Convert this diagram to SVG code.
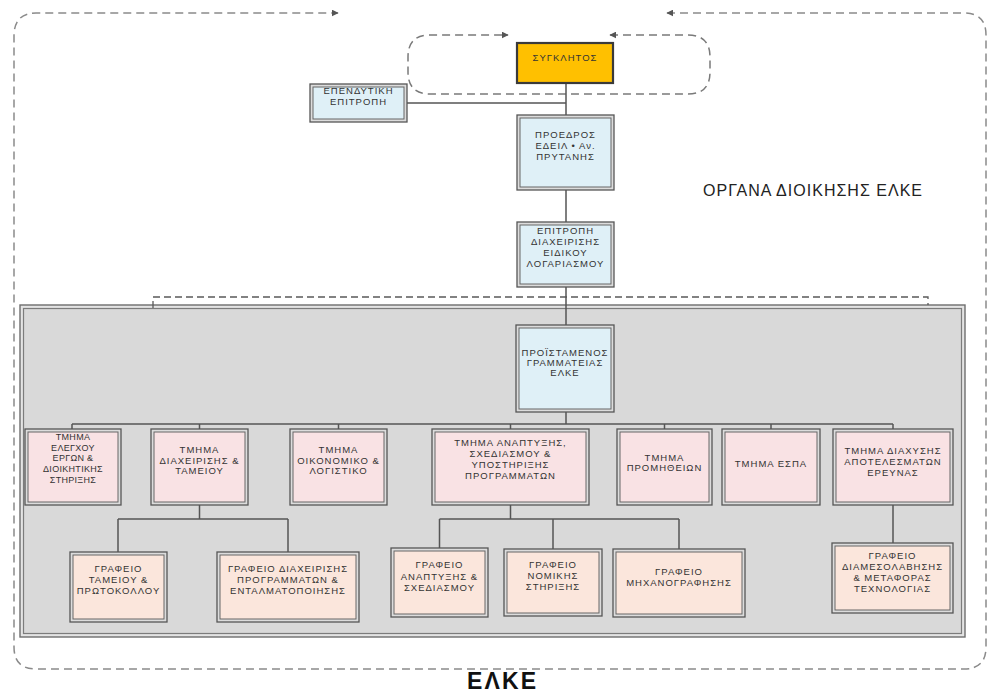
<svg xmlns="http://www.w3.org/2000/svg" width="988" height="693" viewBox="0 0 988 693">
  <defs>
    <marker id="arrow" viewBox="0 0 10 10" refX="9" refY="5" markerWidth="7" markerHeight="7" markerUnits="userSpaceOnUse" orient="auto-start-reverse">
      <path d="M0,0 L10,5 L0,10 z" fill="#555"/>
    </marker>
    <style>
      .bg{fill:#ffffff}
      .panel-o{fill:#e4e4e4;stroke:#6e6e6e;stroke-width:1.4}
      .panel-i{fill:#d9d9d9;stroke:#7c7c7c;stroke-width:1.2}
      .box-o{fill:#dcdcdc;stroke:#565656;stroke-width:1.3}
      .blue{fill:#dff0f7;stroke:#666;stroke-width:1}
      .pink{fill:#f9e2e4;stroke:#666;stroke-width:1}
      .peach{fill:#fbe6dc;stroke:#666;stroke-width:1}
      .senate{fill:#ffc000;stroke:#3a3a3a;stroke-width:2.2}
      .t{font-family:"Liberation Sans",Arial,sans-serif;font-size:9.5px;letter-spacing:1px;fill:#333;text-anchor:middle}
      .ts{font-size:9px;letter-spacing:0.3px}
      .conn{stroke:#555;stroke-width:1.5;fill:none}
      .dash-outer{stroke:#8a8a8a;stroke-width:1.5;fill:none;stroke-dasharray:8 5}
      .dash-inner{stroke:#7a7a7a;stroke-width:1.5;fill:none;stroke-dasharray:8 5}
      .dash-bracket{stroke:#5a5a5a;stroke-width:1.3;fill:none;stroke-dasharray:7 4}
      .title{font-family:"Liberation Sans",Arial,sans-serif;font-size:16px;fill:#222}
      .label{font-family:"Liberation Sans",Arial,sans-serif;font-size:23px;font-weight:bold;fill:#111}
    </style>
  </defs>

  <rect class="bg" x="0" y="0" width="988" height="693"/>

  <!-- outer dashed boundary with arrows -->
  <path class="dash-outer" d="M667,13 H964 Q986,13 986,35 V647 Q986,669 964,669 H36 Q14,669 14,647 V36 Q14,13 36,13 H338" marker-start="url(#arrow)" marker-end="url(#arrow)"/>

  <!-- dashed loop around the senate -->
  <path class="dash-inner" d="M610,35 H688 Q710,35 710,57 V72 Q710,94 688,94 H430 Q408,94 408,72 V57 Q408,35 430,35 H508" marker-start="url(#arrow)" marker-end="url(#arrow)"/>

  <!-- grey administration panel -->
  <g id="panel">
    <rect class="panel-o" x="20" y="305" width="945" height="332"/>
    <rect class="panel-i" x="23.5" y="308.5" width="938" height="325"/>
  </g>

  <!-- dashed bracket above the panel -->
  <path class="dash-bracket" d="M153,308 V297 H928 V305"/>

  <!-- connectors -->
  <g id="connectors" class="conn">
    <path d="M566,83 V115"/>
    <path d="M407,103 H566"/>
    <path d="M566,190 V222"/>
    <path d="M566,287 V325"/>
    <path d="M566,412 V424"/>
    <path d="M72,424 H893"/>
    <path d="M72,424 V429 M199.5,424 V429 M338.5,424 V429 M510.5,424 V429 M664.5,424 V429 M771,424 V429 M893,424 V429"/>
    <path d="M199.5,505 V519 M118,519 H288 M118,519 V552 M288,519 V552"/>
    <path d="M510.5,505 V519 M439.5,519 H679 M439.5,519 V548 M553,519 V549 M679,519 V549"/>
    <path d="M893,505 V543"/>
  </g>

  <!-- governing bodies -->
  <g id="senate">
    <rect class="senate" x="517" y="43" width="96" height="40"/>
    <text class="t" x="565" y="61">ΣΥΓΚΛΗΤΟΣ</text>
  </g>

  <g id="investment-committee">
    <rect class="box-o" x="310" y="84" width="97" height="38"/>
    <rect class="blue" x="313" y="87" width="91" height="32"/>
    <text class="t" x="358.5" y="94">ΕΠΕΝΔΥΤΙΚΗ</text>
    <text class="t" x="358.5" y="105">ΕΠΙΤΡΟΠΗ</text>
  </g>

  <g id="president">
    <rect class="box-o" x="517" y="115" width="97" height="75"/>
    <rect class="blue" x="520" y="118" width="91" height="69"/>
    <text class="t" x="565.5" y="138">ΠΡΟΕΔΡΟΣ</text>
    <text class="t" x="565.5" y="149">ΕΔΕΙΛ • Αν.</text>
    <text class="t" x="565.5" y="160">ΠΡΥΤΑΝΗΣ</text>
  </g>

  <g id="management-committee">
    <rect class="box-o" x="517" y="222" width="97" height="65"/>
    <rect class="blue" x="520" y="225" width="91" height="59"/>
    <text class="t" x="565.5" y="234">ΕΠΙΤΡΟΠΗ</text>
    <text class="t" x="565.5" y="245">ΔΙΑΧΕΙΡΙΣΗΣ</text>
    <text class="t" x="565.5" y="256">ΕΙΔΙΚΟΥ</text>
    <text class="t" x="565.5" y="267">ΛΟΓΑΡΙΑΣΜΟΥ</text>
  </g>

  <text class="title" x="703" y="196" textLength="219" lengthAdjust="spacing">ΟΡΓΑΝΑ ΔΙΟΙΚΗΣΗΣ ΕΛΚΕ</text>

  <g id="head-of-secretariat">
    <rect class="box-o" x="516" y="325" width="98" height="87"/>
    <rect class="blue" x="519" y="328" width="92" height="81"/>
    <text class="t" x="565" y="356">ΠΡΟΪΣΤΑΜΕΝΟΣ</text>
    <text class="t" x="565" y="366">ΓΡΑΜΜΑΤΕΙΑΣ</text>
    <text class="t" x="565" y="376">ΕΛΚΕ</text>
  </g>

  <!-- departments -->
  <g id="dept-audit">
    <rect class="box-o" x="25" y="429" width="96" height="76"/>
    <rect class="pink" x="28" y="432" width="90" height="70"/>
    <text class="t ts" x="73" y="440">ΤΜΗΜΑ</text>
    <text class="t ts" x="73" y="451">ΕΛΕΓΧΟΥ</text>
    <text class="t ts" x="73" y="461">ΕΡΓΩΝ &amp;</text>
    <text class="t ts" x="73" y="472">ΔΙΟΙΚΗΤΙΚΗΣ</text>
    <text class="t ts" x="73" y="483">ΣΤΗΡΙΞΗΣ</text>
  </g>

  <g id="dept-treasury">
    <rect class="box-o" x="151" y="429" width="97" height="76"/>
    <rect class="pink" x="154" y="432" width="91" height="70"/>
    <text class="t" x="199.5" y="453">ΤΜΗΜΑ</text>
    <text class="t" x="199.5" y="464">ΔΙΑΧΕΙΡΙΣΗΣ &amp;</text>
    <text class="t" x="199.5" y="474">ΤΑΜΕΙΟΥ</text>
  </g>

  <g id="dept-finance">
    <rect class="box-o" x="290" y="429" width="97" height="76"/>
    <rect class="pink" x="293" y="432" width="91" height="70"/>
    <text class="t" x="338.5" y="453">ΤΜΗΜΑ</text>
    <text class="t" x="338.5" y="464">ΟΙΚΟΝΟΜΙΚΟ &amp;</text>
    <text class="t" x="338.5" y="474">ΛΟΓΙΣΤΙΚΟ</text>
  </g>

  <g id="dept-development">
    <rect class="box-o" x="432" y="429" width="157" height="76"/>
    <rect class="pink" x="435" y="432" width="151" height="70"/>
    <text class="t" x="510.5" y="446">ΤΜΗΜΑ ΑΝΑΠΤΥΞΗΣ,</text>
    <text class="t" x="510.5" y="457">ΣΧΕΔΙΑΣΜΟΥ &amp;</text>
    <text class="t" x="510.5" y="468">ΥΠΟΣΤΗΡΙΞΗΣ</text>
    <text class="t" x="510.5" y="479">ΠΡΟΓΡΑΜΜΑΤΩΝ</text>
  </g>

  <g id="dept-procurement">
    <rect class="box-o" x="617" y="429" width="95" height="76"/>
    <rect class="pink" x="620" y="432" width="89" height="70"/>
    <text class="t" x="664.5" y="461">ΤΜΗΜΑ</text>
    <text class="t" x="664.5" y="471">ΠΡΟΜΗΘΕΙΩΝ</text>
  </g>

  <g id="dept-espa">
    <rect class="box-o" x="722" y="429" width="98" height="76"/>
    <rect class="pink" x="725" y="432" width="92" height="70"/>
    <text class="t" x="771" y="467">ΤΜΗΜΑ ΕΣΠΑ</text>
  </g>

  <g id="dept-dissemination">
    <rect class="box-o" x="833" y="429" width="120" height="76"/>
    <rect class="pink" x="836" y="432" width="114" height="70"/>
    <text class="t" x="893" y="454">ΤΜΗΜΑ ΔΙΑΧΥΣΗΣ</text>
    <text class="t" x="893" y="465">ΑΠΟΤΕΛΕΣΜΑΤΩΝ</text>
    <text class="t" x="893" y="476">ΕΡΕΥΝΑΣ</text>
  </g>

  <!-- offices -->
  <g id="office-cashier">
    <rect class="box-o" x="70" y="552" width="97" height="70"/>
    <rect class="peach" x="73" y="555" width="91" height="64"/>
    <text class="t" x="118.5" y="572">ΓΡΑΦΕΙΟ</text>
    <text class="t" x="118.5" y="583">ΤΑΜΕΙΟΥ &amp;</text>
    <text class="t" x="118.5" y="594">ΠΡΩΤΟΚΟΛΛΟΥ</text>
  </g>

  <g id="office-programme-management">
    <rect class="box-o" x="217" y="552" width="142" height="70"/>
    <rect class="peach" x="220" y="555" width="136" height="64"/>
    <text class="t" x="288" y="572">ΓΡΑΦΕΙΟ ΔΙΑΧΕΙΡΙΣΗΣ</text>
    <text class="t" x="288" y="583">ΠΡΟΓΡΑΜΜΑΤΩΝ &amp;</text>
    <text class="t" x="288" y="594">ΕΝΤΑΛΜΑΤΟΠΟΙΗΣΗΣ</text>
  </g>

  <g id="office-development">
    <rect class="box-o" x="391" y="548" width="97" height="69"/>
    <rect class="peach" x="394" y="551" width="91" height="63"/>
    <text class="t" x="439.5" y="568">ΓΡΑΦΕΙΟ</text>
    <text class="t" x="439.5" y="580">ΑΝΑΠΤΥΞΗΣ &amp;</text>
    <text class="t" x="439.5" y="591">ΣΧΕΔΙΑΣΜΟΥ</text>
  </g>

  <g id="office-legal">
    <rect class="box-o" x="504" y="549" width="98" height="67"/>
    <rect class="peach" x="507" y="552" width="92" height="61"/>
    <text class="t" x="553" y="568">ΓΡΑΦΕΙΟ</text>
    <text class="t" x="553" y="579">ΝΟΜΙΚΗΣ</text>
    <text class="t" x="553" y="590">ΣΤΗΡΙΞΗΣ</text>
  </g>

  <g id="office-it">
    <rect class="box-o" x="613" y="549" width="132" height="68"/>
    <rect class="peach" x="616" y="552" width="126" height="62"/>
    <text class="t" x="679" y="575">ΓΡΑΦΕΙΟ</text>
    <text class="t" x="679" y="586">ΜΗΧΑΝΟΓΡΑΦΗΣΗΣ</text>
  </g>

  <g id="office-tech-transfer">
    <rect class="box-o" x="832" y="543" width="121" height="70"/>
    <rect class="peach" x="835" y="546" width="115" height="64"/>
    <text class="t" x="892.5" y="559">ΓΡΑΦΕΙΟ</text>
    <text class="t" x="892.5" y="570">ΔΙΑΜΕΣΟΛΑΒΗΣΗΣ</text>
    <text class="t" x="892.5" y="581">&amp; ΜΕΤΑΦΟΡΑΣ</text>
    <text class="t" x="892.5" y="592">ΤΕΧΝΟΛΟΓΙΑΣ</text>
  </g>

  <text class="label" x="467" y="689" textLength="69" lengthAdjust="spacing">ΕΛΚΕ</text>
</svg>
